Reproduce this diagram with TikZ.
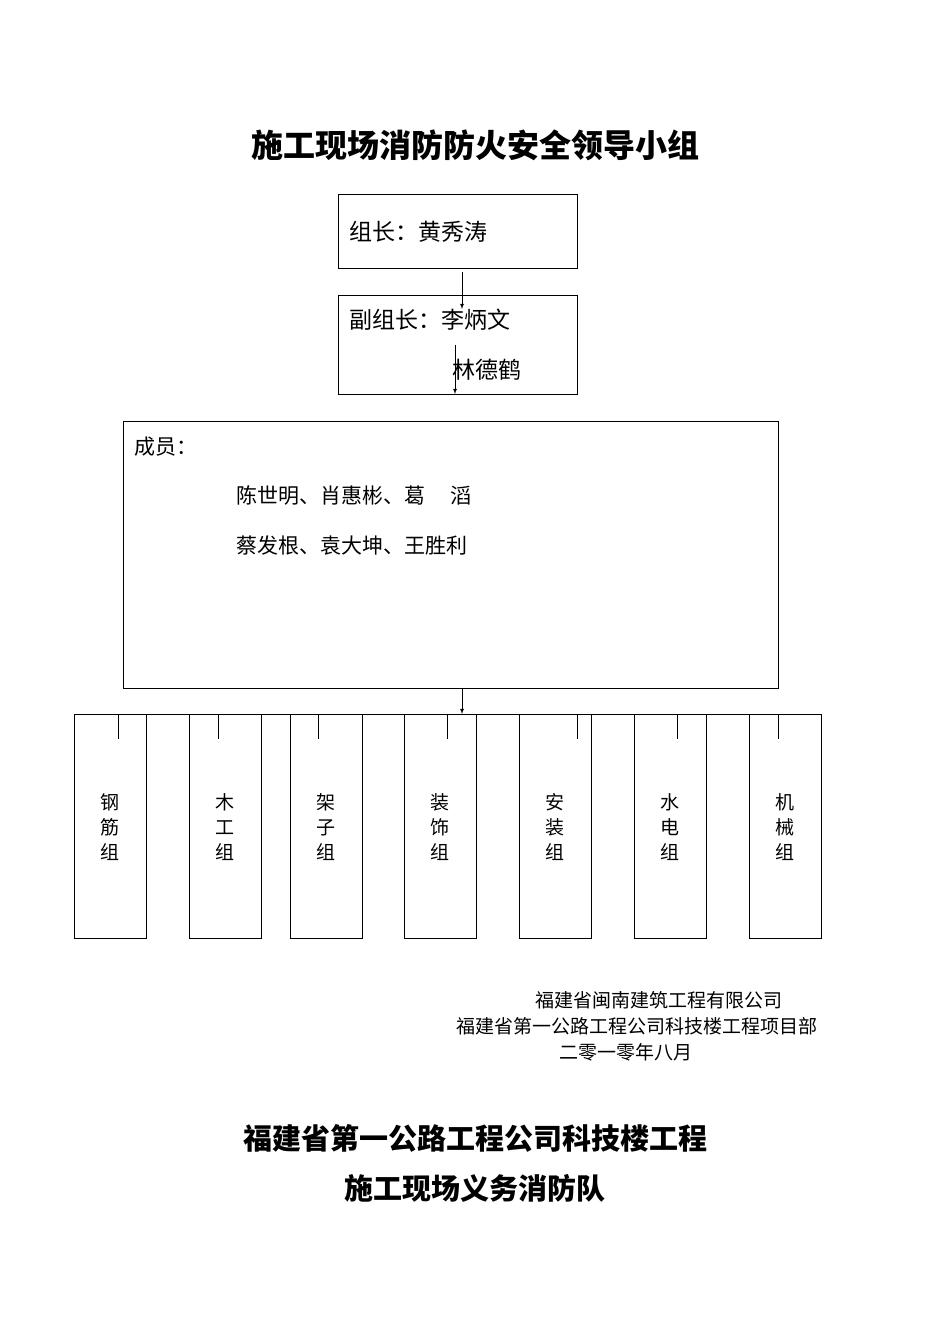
\documentclass[tikz,border=0pt]{standalone}
\usepackage{fontspec}
\setmainfont{Noto Sans CJK SC}
\begin{document}
\begin{tikzpicture}[x=1pt,y=-1pt,
  bx/.style={draw,line width=0.8pt},
  ln/.style={line width=0.8pt},
  arr/.style={ln,-latex},
  grp/.style={bx,minimum width=72pt,minimum height=224pt,anchor=north west,inner sep=0pt},
  gtxt/.style={font=\fontsize{19}{25}\selectfont,align=center}]
\useasboundingbox (0,0) rectangle (950,1344);
\node[font=\bfseries\fontsize{32}{36}\selectfont] (title) at (475,145) {施工现场消防防火安全领导小组};
\draw[bx] (338,194) rectangle (577,268);
\node[anchor=west,font=\fontsize{23}{28}\selectfont] (lead) at (346,232) {组长：黄秀涛};
\draw[bx] (338,295) rectangle (577,394);
\node[anchor=west,font=\fontsize{23}{28}\selectfont] (dep1) at (346,320) {副组长：李炳文};
\node[anchor=west,font=\fontsize{23}{28}\selectfont] (dep2) at (449,370) {林德鹤};
\coordinate (a1) at (462,272); \coordinate (a2) at (462,309);
\draw[arr] (a1) -- (a2);
\coordinate (b1) at (455,345); \coordinate (b2) at (455,394);
\draw[arr] (b1) -- (b2);
\draw[bx] (123,421) rectangle (778,688);
\node[anchor=west,font=\fontsize{21}{26}\selectfont] (cy) at (131,447) {成员：};
\node[anchor=west,font=\fontsize{21}{26}\selectfont] (m1) at (233,496) {陈世明、肖惠彬、葛\hspace{1.2em}滔};
\node[anchor=west,font=\fontsize{21}{26}\selectfont] (m2) at (233,546) {蔡发根、袁大坤、王胜利};
\coordinate (c1) at (462,689); \coordinate (c2) at (462,714);
\draw[arr] (c1) -- (c2);
\draw[ln] (118,714) -- (778,714);
\foreach \x in {118,218,318,447,577,677,778} \draw[ln] (\x,714) -- (\x,739);
\node[grp] (g1) at (74,714) {}; \node[gtxt] at (110,827) {钢\\筋\\组};
\node[grp] (g2) at (189,714) {}; \node[gtxt] at (225,827) {木\\工\\组};
\node[grp] (g3) at (290,714) {}; \node[gtxt] at (326,827) {架\\子\\组};
\node[grp] (g4) at (404,714) {}; \node[gtxt] at (440,827) {装\\饰\\组};
\node[grp] (g5) at (519,714) {}; \node[gtxt] at (555,827) {安\\装\\组};
\node[grp] (g6) at (634,714) {}; \node[gtxt] at (670,827) {水\\电\\组};
\node[grp] (g7) at (749,714) {}; \node[gtxt] at (785,827) {机\\械\\组};
\node[anchor=east,font=\fontsize{19}{24}\selectfont] (f1) at (786,1000) {福建省闽南建筑工程有限公司};
\node[anchor=east,font=\fontsize{19}{24}\selectfont] (f2) at (821,1026) {福建省第一公路工程公司科技楼工程项目部};
\node[anchor=east,font=\fontsize{19}{24}\selectfont] (f3) at (696,1052) {二零一零年八月};
\node[font=\bfseries\fontsize{29}{34}\selectfont] (t2) at (475,1138) {福建省第一公路工程公司科技楼工程};
\node[font=\bfseries\fontsize{29}{34}\selectfont] (t3) at (475,1188) {施工现场义务消防队};
\end{tikzpicture}
\end{document}
